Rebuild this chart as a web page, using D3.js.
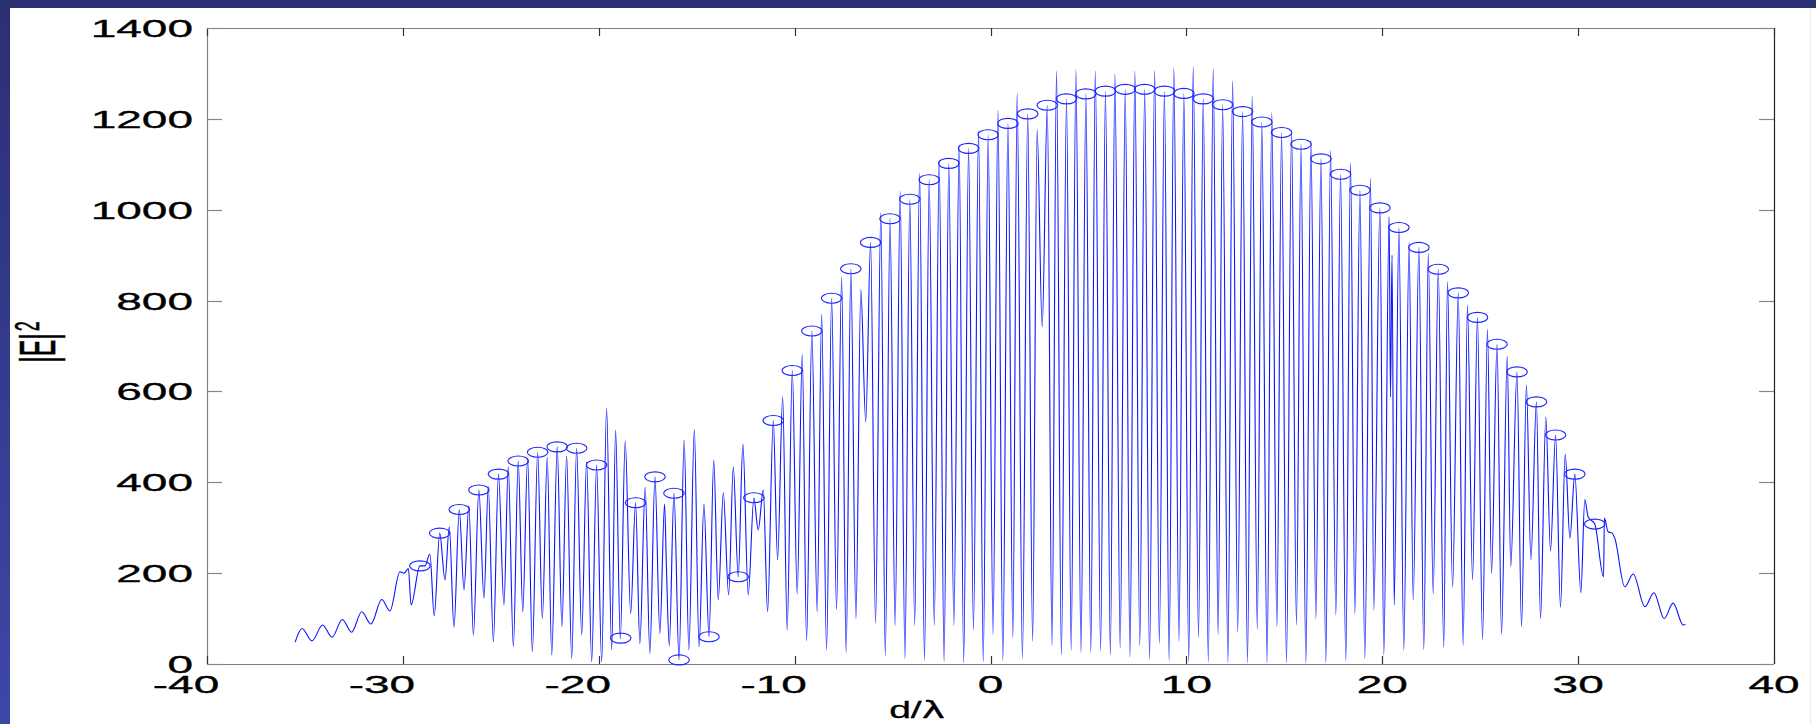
<!DOCTYPE html>
<html>
<head>
<meta charset="utf-8">
<script src="https://cdn.jsdelivr.net/npm/d3@7"></script>
<style>
  html, body { margin: 0; padding: 0; background: #ffffff; }
  svg { display: block; }
  text { font-family: "Liberation Sans", Arial, Helvetica, sans-serif; fill: #000; stroke: #000; stroke-width: 0.3px; }
</style>
</head>
<body>
<svg id="chart" width="1816" height="724"></svg>
<script>
// Axis ticks
const xTicks = [-40, -30, -20, -10, 0, 10, 20, 30, 40];
const yTicks = [0, 200, 400, 600, 800, 1000, 1200, 1400];

// |E|^2 versus d/lambda, vertices of the plotted trace
const trace = [
  [-35.5, 48], [-35.15, 78], [-34.64, 51], [-34.1, 86], [-33.62, 59], [-33.09, 98],
  [-32.62, 70], [-32.1, 115], [-31.63, 88], [-31.08, 142], [-30.66, 117], [-30.15, 203],
  [-29.94, 200], [-29.72, 210], [-29.58, 130], [-29.13, 216], [-28.87, 216], [-28.62, 242],
  [-28.4, 106], [-28.12, 288], [-27.85, 185], [-27.63, 302], [-27.39, 81], [-27.12, 340],
  [-26.88, 163], [-26.63, 348], [-26.4, 64], [-26.12, 383], [-25.86, 145], [-25.64, 390],
  [-25.38, 49], [-25.12, 418], [-24.84, 130], [-24.62, 434], [-24.36, 38], [-24.11, 447],
  [-23.88, 115], [-23.63, 453], [-23.39, 27], [-23.12, 466], [-22.88, 100], [-22.63, 455],
  [-22.4, 20], [-22.12, 478], [-21.88, 82], [-21.64, 458], [-21.38, 12], [-21.13, 475],
  [-20.87, 64], [-20.62, 445], [-20.36, 5], [-20.11, 438],
  [-19.85, 5], [-19.6, 563], [-19.34, 31], [-19.14, 515], [-18.9, 55], [-18.65, 491],
  [-18.37, 111], [-18.12, 355], [-17.9, 45], [-17.63, 389], [-17.39, 23], [-17.13, 412],
  [-16.88, 67], [-16.64, 352], [-16.55, 222], [-16.4, 40], [-16.16, 376], [-15.9, 9],
  [-15.64, 493], [-15.4, 31], [-15.12, 516], [-14.88, 38], [-14.63, 352], [-14.37, 60],
  [-14.13, 449], [-13.9, 141], [-13.64, 377], [-13.37, 152], [-13.13, 434], [-12.88, 192],
  [-12.64, 484], [-12.37, 152], [-12.08, 366], [-11.86, 295], [-11.6, 383], [-11.38, 115],
  [-11.09, 536], [-10.87, 229], [-10.61, 588], [-10.38, 75], [-10.12, 646], [-9.87, 154],
  [-9.61, 682], [-9.39, 51], [-9.12, 733], [-8.85, 115], [-8.62, 770], [-8.37, 31],
  [-8.11, 805], [-7.86, 120], [-7.6, 852], [-7.37, 25], [-7.13, 870], [-6.87, 100],
  [-6.62, 824], [-6.37, 533], [-6.12, 928], [-5.87, 90], [-5.6, 993], [-5.37, 18],
  [-5.13, 980], [-4.87, 85], [-4.61, 1040], [-4.37, 12], [-4.12, 1023], [-3.87, 85],
  [-3.62, 1080], [-3.37, 8], [-3.13, 1066], [-2.87, 85], [-2.62, 1110], [-2.37, 5],
  [-2.13, 1102], [-1.87, 85], [-1.6, 1143], [-1.37, 3], [-1.12, 1135], [-0.87, 75],
  [-0.61, 1175], [-0.37, 5], [-0.12, 1165], [0.13, 65], [0.38, 1219], [0.63, 8],
  [0.89, 1190], [1.14, 58], [1.36, 1256], [1.63, 12], [1.9, 1211], [2.15, 50],
  [2.38, 1176], [2.64, 742], [2.9, 1230], [3.14, 40], [3.37, 1305], [3.62, 20],
  [3.88, 1244], [4.12, 30], [4.36, 1308], [4.62, 25], [4.87, 1255], [5.12, 25],
  [5.35, 1305], [5.62, 30], [5.87, 1261], [6.12, 20], [6.35, 1300], [6.62, 35],
  [6.88, 1265], [7.12, 15], [7.37, 1305], [7.62, 40], [7.87, 1265], [8.12, 10],
  [8.38, 1306], [8.62, 45], [8.88, 1261], [9.12, 8], [9.36, 1312], [9.62, 50],
  [9.87, 1256], [10.12, 5], [10.35, 1315], [10.62, 58], [10.86, 1244], [11.12, 5],
  [11.37, 1310], [11.62, 65], [11.85, 1231], [12.12, 3], [12.36, 1283], [12.62, 70],
  [12.87, 1216], [13.12, 3], [13.36, 1250], [13.62, 76], [13.85, 1193], [14.12, 3],
  [14.36, 1214], [14.62, 82], [14.86, 1170], [15.11, 3], [15.37, 1173], [15.62, 86],
  [15.85, 1144], [16.1, 2], [16.36, 1153], [16.61, 100], [16.87, 1112], [17.12, 3],
  [17.36, 1130], [17.63, 108], [17.87, 1078], [18.14, 7], [18.38, 1103], [18.6, 111],
  [18.86, 1043], [19.11, 12], [19.4, 1069], [19.57, 119], [19.88, 1004], [20.08, 20],
  [20.35, 985], [20.42, 588], [20.5, 900], [20.61, 130], [20.85, 961], [21.1, 31],
  [21.37, 928], [21.58, 141], [21.87, 917], [22.12, 32], [22.35, 904], [22.6, 154],
  [22.86, 869], [23.14, 37], [23.33, 842], [23.59, 169], [23.88, 817], [24.13, 42],
  [24.35, 790], [24.61, 185], [24.86, 763], [25.12, 54], [25.37, 737], [25.58, 200],
  [25.86, 704], [26.09, 66], [26.38, 678], [26.56, 214], [26.88, 643], [27.11, 82],
  [27.36, 614], [27.59, 229], [27.87, 577], [28.08, 100], [28.35, 543], [28.59, 249],
  [28.85, 504], [29.1, 125], [29.34, 462], [29.58, 277], [29.83, 418], [30.14, 157],
  [30.34, 362], [30.51, 324], [30.85, 308], [31.3, 192], [31.34, 321], [31.53, 291],
  [31.73, 288], [31.87, 277], [32.38, 170], [32.81, 198], [33.41, 126], [33.87, 157],
  [34.39, 100], [34.85, 134], [35.36, 86], [35.48, 87]
];

// Positions of the marked maxima (circle markers)
const peakD = [
  -29.13, -28.12, -27.12, -26.12, -25.12, -24.11, -23.12, -22.12, -21.13, -20.11,
  -18.88, -18.12, -17.13, -16.16, -15.9, -14.37, -12.88, -12.08, -11.09, -10.12,
  -9.12, -8.11, -7.13, -6.12, -5.13, -4.12, -3.13, -2.13, -1.12, -0.12,
  0.89, 1.9, 2.9, 3.88, 4.87, 5.87, 6.88, 7.87, 8.88, 9.87,
  10.86, 11.85, 12.87, 13.85, 14.86, 15.85, 16.87, 17.87, 18.86, 19.88,
  20.85, 21.87, 22.86, 23.88, 24.86, 25.86, 26.88, 27.87, 28.85, 29.83, 30.85
];
const peakE = [
  216, 288, 340, 383, 418, 447, 466, 478, 475, 438,
  57, 355, 412, 376, 9, 60, 192, 366, 536, 646,
  733, 805, 870, 928, 980, 1023, 1066, 1102, 1135, 1165,
  1190, 1211, 1230, 1244, 1255, 1261, 1265, 1265, 1261, 1256,
  1244, 1231, 1216, 1193, 1170, 1144, 1112, 1078, 1043, 1004,
  961, 917, 869, 817, 763, 704, 643, 577, 504, 418, 308
];

const svg = d3.select("#chart");
const W = 1816, H = 724;
const plot = { left: 207, right: 1774, top: 28, bottom: 664 };
const STRETCH = 2.0;     // horizontal stretch of all glyphs and markers
const FONT = 23;

const x = d3.scaleLinear().domain([-40, 40]).range([plot.left, plot.right]);
const y = d3.scaleLinear().domain([0, 1400]).range([plot.bottom, plot.top]);

// Slide frame: dark band along the top and the left edge
const defs = svg.append("defs");
const grad = defs.append("linearGradient").attr("id", "edge").attr("x1", 0).attr("y1", 0).attr("x2", 0).attr("y2", 1);
grad.append("stop").attr("offset", "0%").attr("stop-color", "#2c2f74");
grad.append("stop").attr("offset", "100%").attr("stop-color", "#3d47a8");
svg.append("rect").attr("x", 0).attr("y", 0).attr("width", W).attr("height", H).attr("fill", "#ffffff");
svg.append("rect").attr("x", 0).attr("y", 0).attr("width", 10).attr("height", H).attr("fill", "url(#edge)");
svg.append("rect").attr("x", 0).attr("y", 0).attr("width", W).attr("height", 8).attr("fill", "#2c2e72");
svg.append("line").attr("x1", 1810.5).attr("x2", 1810.5).attr("y1", 8).attr("y2", H)
  .attr("stroke", "#ececec").attr("stroke-width", 1);

// Axes box
const axes = svg.append("g");
axes.append("line").attr("x1", plot.left).attr("x2", plot.right).attr("y1", plot.top + 0.5).attr("y2", plot.top + 0.5)
  .attr("stroke", "#808080").attr("stroke-width", 1.2);
axes.append("line").attr("x1", plot.left).attr("x2", plot.right).attr("y1", plot.bottom + 0.5).attr("y2", plot.bottom + 0.5)
  .attr("stroke", "#808080").attr("stroke-width", 1.2);
axes.append("line").attr("x1", plot.left + 0.5).attr("x2", plot.left + 0.5).attr("y1", plot.top).attr("y2", plot.bottom)
  .attr("stroke", "#808080").attr("stroke-width", 1.2);
axes.append("line").attr("x1", plot.right + 0.5).attr("x2", plot.right + 0.5).attr("y1", plot.top).attr("y2", plot.bottom)
  .attr("stroke", "#222222").attr("stroke-width", 1.2);

// Tick marks
xTicks.forEach(t => {
  const px = Math.round(x(t)) + 0.5;
  axes.append("line").attr("x1", px).attr("x2", px).attr("y1", plot.bottom).attr("y2", plot.bottom - 8)
    .attr("stroke", "#333").attr("stroke-width", 1.2);
  axes.append("line").attr("x1", px).attr("x2", px).attr("y1", plot.top).attr("y2", plot.top + 8)
    .attr("stroke", "#333").attr("stroke-width", 1.2);
});
yTicks.forEach(t => {
  const py = Math.round(y(t)) + 0.5;
  axes.append("line").attr("x1", plot.left).attr("x2", plot.left + 15).attr("y1", py).attr("y2", py)
    .attr("stroke", "#888").attr("stroke-width", 1.2);
  axes.append("line").attr("x1", plot.right - 15).attr("x2", plot.right).attr("y1", py).attr("y2", py)
    .attr("stroke", "#888").attr("stroke-width", 1.2);
});

// Stretched text helper
function label(parent, str, px, py, anchor) {
  const g = parent.append("g").attr("transform", `translate(${px},${py}) scale(${STRETCH},1)`);
  return g.append("text").attr("x", 0).attr("y", 0).attr("text-anchor", anchor)
    .attr("font-size", FONT).text(str);
}

// Tick labels
xTicks.forEach(t => {
  const shift = t < 0 ? -21 : 0;
  label(axes, String(t), x(t) + shift, 693, "middle");
});
yTicks.forEach(t => {
  label(axes, String(t), 193, y(t) + 9, "end");
});

// Axis titles
const xt = svg.append("g").attr("transform", `translate(917,718) scale(1.7,1)`)
  .append("text").attr("text-anchor", "middle").attr("font-size", FONT);
xt.append("tspan").text("d/");
xt.append("tspan").attr("font-family", "DejaVu Sans, sans-serif").text("λ");

const yt = svg.append("g").attr("transform", `translate(55,342) scale(${STRETCH},1) rotate(-90)`)
  .append("text").attr("text-anchor", "middle").attr("font-size", 25);
yt.append("tspan").text("|E|");
yt.append("tspan").attr("dy", -8).attr("dx", 2).attr("font-size", 18).text("2");

// Data trace
const line = d3.line().x(d => x(d[0])).y(d => y(d[1])).curve(d3.curveMonotoneX);
svg.append("path").datum(trace).attr("d", line).attr("fill", "none")
  .attr("stroke", "#0a14ff").attr("stroke-width", 1.1).attr("stroke-linejoin", "round");

// Circle markers at the maxima
svg.append("g").selectAll("ellipse").data(peakD).join("ellipse")
  .attr("cx", (d) => x(d)).attr("cy", (d, i) => y(peakE[i]))
  .attr("rx", 10.3).attr("ry", 5)
  .attr("fill", "none").attr("stroke", "#1a24ff").attr("stroke-width", 1.1);
</script>
</body>
</html>
